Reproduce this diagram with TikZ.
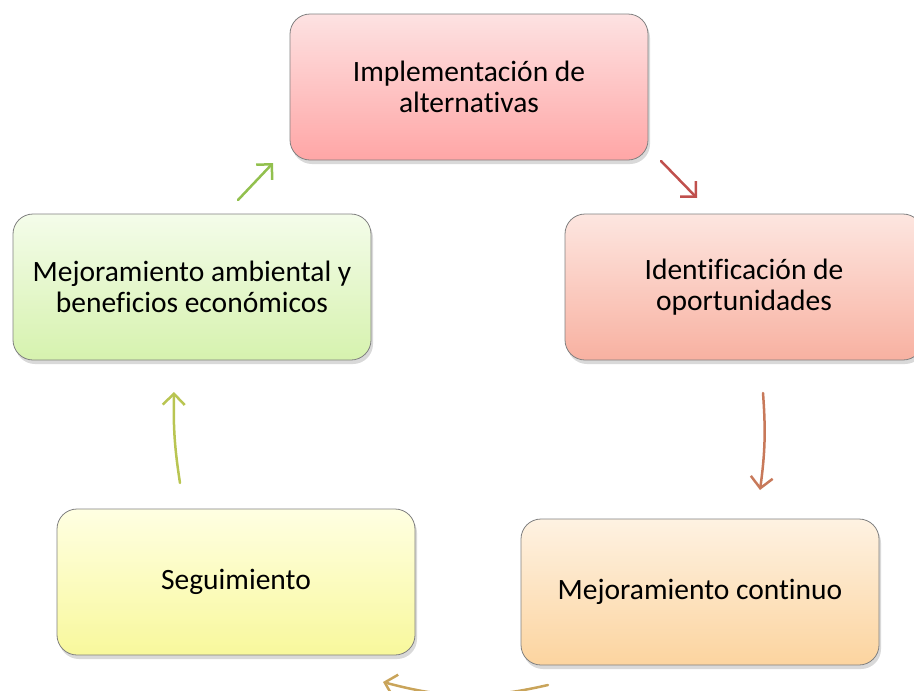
\documentclass[tikz,border=0pt]{standalone}
\usepackage{fontspec}
\setmainfont{Carlito}[Ligatures=NoCommon]
\usetikzlibrary{positioning, shadows, arrows.meta}

\definecolor{rosaA}{HTML}{FDE2E2}
\definecolor{rosaB}{HTML}{FFA6A6}
\definecolor{salmonA}{HTML}{FDE6E0}
\definecolor{salmonB}{HTML}{F8B1A1}
\definecolor{naranjaA}{HTML}{FEF2E2}
\definecolor{naranjaB}{HTML}{FCD49F}
\definecolor{amarilloA}{HTML}{FFFFE2}
\definecolor{amarilloB}{HTML}{F8F89C}
\definecolor{verdeA}{HTML}{F4FCEA}
\definecolor{verdeB}{HTML}{D6F2AE}
\definecolor{fverde}{HTML}{92C04E}
\definecolor{frojo}{HTML}{C0504D}
\definecolor{fcafe}{HTML}{C8795A}
\definecolor{fdorado}{HTML}{C9A45A}
\definecolor{foliva}{HTML}{B9C552}

\begin{document}
\begin{tikzpicture}[x=1pt, y=1pt]
	\tikzstyle{paso} = [draw=black!50, line width=0.8pt, rounded corners=20pt, align=center, minimum width=358pt, minimum height=146pt, font=\fontsize{29.5}{31}\selectfont, drop shadow={shadow xshift=2pt, shadow yshift=-4pt, opacity=0.3}]
	\tikzstyle{flecha} = [-{Straight Barb[length=11pt, width=22pt]}, line width=2.5pt, line cap=round]
	
	\useasboundingbox (0,0) rectangle (914,-691);
	
	\node[paso, top color=rosaA, bottom color=rosaB] (implementacion) at (469,-87) {Implementación de\\alternativas};
	\node[paso, top color=salmonA, bottom color=salmonB] (identificacion) at (744,-287) {Identificación de\\oportunidades};
	\node[paso, top color=naranjaA, bottom color=naranjaB] (continuo) at (700,-592) {Mejoramiento continuo};
	\node[paso, top color=amarilloA, bottom color=amarilloB] (seguimiento) at (236,-582) {Seguimiento};
	\node[paso, top color=verdeA, bottom color=verdeB] (ambiental) at (192,-287) {Mejoramiento ambiental y\\beneficios económicos};
	
	% extremos de las flechas
	\coordinate (v1) at (238,-200);
	\coordinate (v2) at (273,-163);
	\coordinate (r1) at (661,-161);
	\coordinate (r2) at (697,-198);
	\coordinate (c1) at (763,-393);
	\coordinate (c2) at (760,-490);
	\coordinate (d1) at (548,-685);
	\coordinate (d2) at (383,-682);
	\coordinate (o1) at (180,-483);
	\coordinate (o2) at (174,-392);
	
	\draw[flecha, fverde] (v1) -- (v2);
	\draw[flecha, frojo] (r1) -- (r2);
	\draw[flecha, fcafe] (c1) to[bend left=6] (c2);
	\draw[flecha, fdorado] (d1) to[bend left=14] (d2);
	\draw[flecha, foliva] (o1) to[bend left=5] (o2);
\end{tikzpicture}
\end{document}
